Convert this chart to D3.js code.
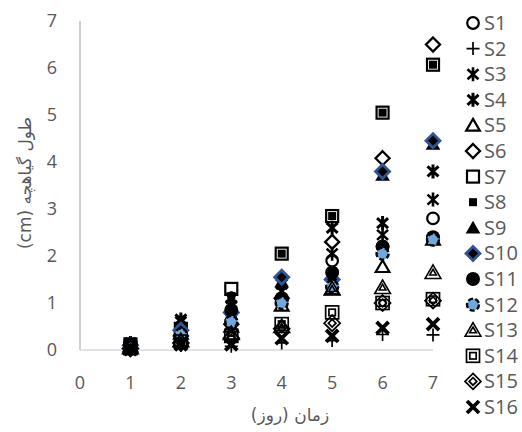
<!DOCTYPE html>
<html>
<head>
<meta charset="utf-8">
<script src="https://cdn.jsdelivr.net/npm/d3@7"></script>
<style>
  body { margin: 0; background: #fff; }
  svg { display: block; }
</style>
</head>
<body>
<div id="chart"></div>
<script>
// days on the x axis
const days = [1, 2, 3, 4, 5, 6, 7];
const yTicks = [0, 1, 2, 3, 4, 5, 6, 7];
const xTicks = [0, 1, 2, 3, 4, 5, 6, 7];

// seedling length (cm)
const s1  = [0.10, 0.30, 0.80, 1.05, 1.90, 2.20, 2.80];
const s2  = [0.05, 0.10, 0.08, 0.15, 0.20, 0.33, 0.32];
const s3  = [0.12, 0.60, 0.95, 1.25, 2.05, 2.45, 3.20];
const s4  = [0.15, 0.65, 1.10, 1.40, 2.60, 2.70, 3.80];
const s5  = [0.08, 0.35, 0.50, 0.95, 1.30, 1.77, 2.35];
const s6  = [0.10, 0.30, 0.55, 1.10, 2.30, 4.08, 6.50];
const s7  = [0.12, 0.45, 1.30, 2.05, 2.85, 5.05, 6.07];
const s8  = [0.10, 0.40, 1.15, 2.05, 2.85, 5.05, 6.07];
const s9  = [0.08, 0.38, 0.75, 1.45, 1.45, 3.72, 4.38];
const s10 = [0.10, 0.42, 0.80, 1.55, 1.50, 3.80, 4.45];
const s11 = [0.12, 0.30, 0.85, 1.10, 1.65, 2.20, 2.40];
const s12 = [0.06, 0.33, 0.60, 1.00, 1.35, 2.05, 2.35];
const s13 = [0.05, 0.20, 0.35, 0.50, 1.30, 1.33, 1.65];
const s14 = [0.04, 0.18, 0.30, 0.55, 0.80, 1.00, 1.08];
const s15 = [0.03, 0.15, 0.25, 0.45, 0.57, 1.00, 1.05];
const s16 = [0.02, 0.12, 0.12, 0.25, 0.30, 0.47, 0.55];

const seriesNames = ['S1','S2','S3','S4','S5','S6','S7','S8','S9','S10','S11','S12','S13','S14','S15','S16'];
const seriesValues = [s1,s2,s3,s4,s5,s6,s7,s8,s9,s10,s11,s12,s13,s14,s15,s16];

const xTitle = 'زمان (روز)';
const yTitle = 'طول گیاهچه (cm)';

// marker kind per series (style, not data)
const markerKinds = ['circle','plus','star','starBold','triangle','diamond','square','smallSquare',
  'triangleFill','diamondBlue','circleFill','circleBlue','triangleDouble','squareDouble','diamondDouble','xBold'];

const W = 522, H = 432;
const svg = d3.select('#chart').append('svg').attr('width', W).attr('height', H);

const x = d3.scaleLinear().domain([0, 7]).range([80, 433]);
const y = d3.scaleLinear().domain([0, 7]).range([350, 21]);

const tickFont = '"Open Sans", sans-serif';
const grey = '#595959';

// axes lines
svg.append('line').attr('x1', x(0)).attr('x2', x(0)).attr('y1', y(7)).attr('y2', y(0))
  .attr('stroke', '#bfbfbf').attr('stroke-width', 1.5);
svg.append('line').attr('x1', x(0)).attr('x2', x(7)).attr('y1', y(0)).attr('y2', y(0))
  .attr('stroke', '#d9d9d9').attr('stroke-width', 1.5);

// tick labels
svg.append('g').selectAll('text').data(yTicks).enter().append('text')
  .attr('x', 57).attr('y', d => y(d)).attr('dy', '0.35em')
  .attr('text-anchor', 'end').attr('font-family', tickFont).attr('font-size', 18)
  .attr('fill', grey).text(d => d);

svg.append('g').selectAll('text').data(xTicks).enter().append('text')
  .attr('x', d => x(d)).attr('y', 383).attr('dy', '0.35em')
  .attr('text-anchor', 'middle').attr('font-family', tickFont).attr('font-size', 18)
  .attr('fill', grey).text(d => d);

// axis titles
svg.append('text').attr('x', 290).attr('y', 415).attr('dy', '0.35em')
  .attr('text-anchor', 'middle').attr('direction', 'rtl')
  .attr('font-family', '"DejaVu Sans", sans-serif').attr('font-size', 17)
  .attr('fill', grey).text(xTitle);

svg.append('text').attr('transform', 'translate(25,183)rotate(-90)').attr('dy', '0.35em')
  .attr('text-anchor', 'middle').attr('direction', 'rtl')
  .attr('font-family', '"DejaVu Sans", sans-serif').attr('font-size', 17)
  .attr('fill', grey).text(yTitle);

// marker drawing
const tri = r => `M0,${-r}L${r * 1.05},${r * 0.8}H${-r * 1.05}Z`;
const dia = r => `M0,${-r}L${r},0L0,${r}L${-r},0Z`;
const star = 'M-5.5,-5L5.5,5M5.5,-5L-5.5,5M0,-7V7';

function drawMarker(g, kind) {
  const k = '#000';
  switch (kind) {
    case 'circle':
      g.append('circle').attr('r', 5.8).attr('fill', 'none').attr('stroke', k).attr('stroke-width', 2.2); break;
    case 'plus':
      g.append('path').attr('d', 'M-6.5,0H6.5M0,-6.5V6.5').attr('stroke', k).attr('stroke-width', 1.7); break;
    case 'star':
      g.append('path').attr('d', star).attr('stroke', k).attr('stroke-width', 2.6); break;
    case 'starBold':
      g.append('path').attr('d', star).attr('stroke', k).attr('stroke-width', 3); break;
    case 'triangle':
      g.append('path').attr('d', tri(6.5)).attr('fill', 'none').attr('stroke', k).attr('stroke-width', 2.2); break;
    case 'diamond':
      g.append('path').attr('d', dia(7)).attr('fill', 'none').attr('stroke', k).attr('stroke-width', 2.3); break;
    case 'square':
      g.append('rect').attr('x', -6).attr('y', -6).attr('width', 12).attr('height', 12)
        .attr('fill', 'none').attr('stroke', k).attr('stroke-width', 2.2); break;
    case 'smallSquare':
      g.append('rect').attr('x', -4).attr('y', -4).attr('width', 8).attr('height', 8).attr('fill', k); break;
    case 'triangleFill':
      g.append('path').attr('d', tri(7)).attr('fill', k); break;
    case 'diamondBlue':
      g.append('path').attr('d', dia(7)).attr('fill', k).attr('stroke', '#2f5597').attr('stroke-width', 2.8); break;
    case 'circleFill':
      g.append('circle').attr('r', 7).attr('fill', k); break;
    case 'circleBlue':
      g.append('circle').attr('r', 6).attr('fill', '#6fa8dc').attr('stroke', k)
        .attr('stroke-width', 2.4).attr('stroke-dasharray', '5,2.5'); break;
    case 'triangleDouble':
      g.append('path').attr('d', tri(7.5) + tri(3.2)).attr('fill', 'none').attr('stroke', k).attr('stroke-width', 1.6); break;
    case 'squareDouble':
      g.append('rect').attr('x', -6.5).attr('y', -6.5).attr('width', 13).attr('height', 13)
        .attr('fill', 'none').attr('stroke', k).attr('stroke-width', 1.7);
      g.append('rect').attr('x', -3.2).attr('y', -3.2).attr('width', 6.4).attr('height', 6.4)
        .attr('fill', 'none').attr('stroke', k).attr('stroke-width', 1.7); break;
    case 'diamondDouble':
      g.append('path').attr('d', dia(8) + dia(3.8)).attr('fill', 'none').attr('stroke', k).attr('stroke-width', 1.7); break;
    case 'xBold':
      g.append('path').attr('d', 'M-6,-6L6,6M6,-6L-6,6').attr('stroke', k).attr('stroke-width', 3.8); break;
  }
}

// points
seriesValues.forEach((vals, i) => {
  const grp = svg.append('g').attr('class', 'series-' + seriesNames[i]);
  grp.selectAll('g').data(vals.map((v, j) => ({ day: days[j], v })))
    .enter().append('g')
      .attr('transform', d => `translate(${x(d.day)},${y(d.v)})`)
      .each(function () { drawMarker(d3.select(this), markerKinds[i]); });
});

// legend
const legend = svg.append('g');
seriesNames.forEach((name, i) => {
  const row = legend.append('g').attr('transform', `translate(0,${23 + i * 25.6})`);
  drawMarker(row.append('g').attr('transform', 'translate(473,0)'), markerKinds[i]);
  row.append('text').attr('x', 484).attr('dy', '0.35em')
    .attr('font-family', tickFont).attr('font-size', 20).attr('fill', grey).text(name);
});
</script>
</body>
</html>
